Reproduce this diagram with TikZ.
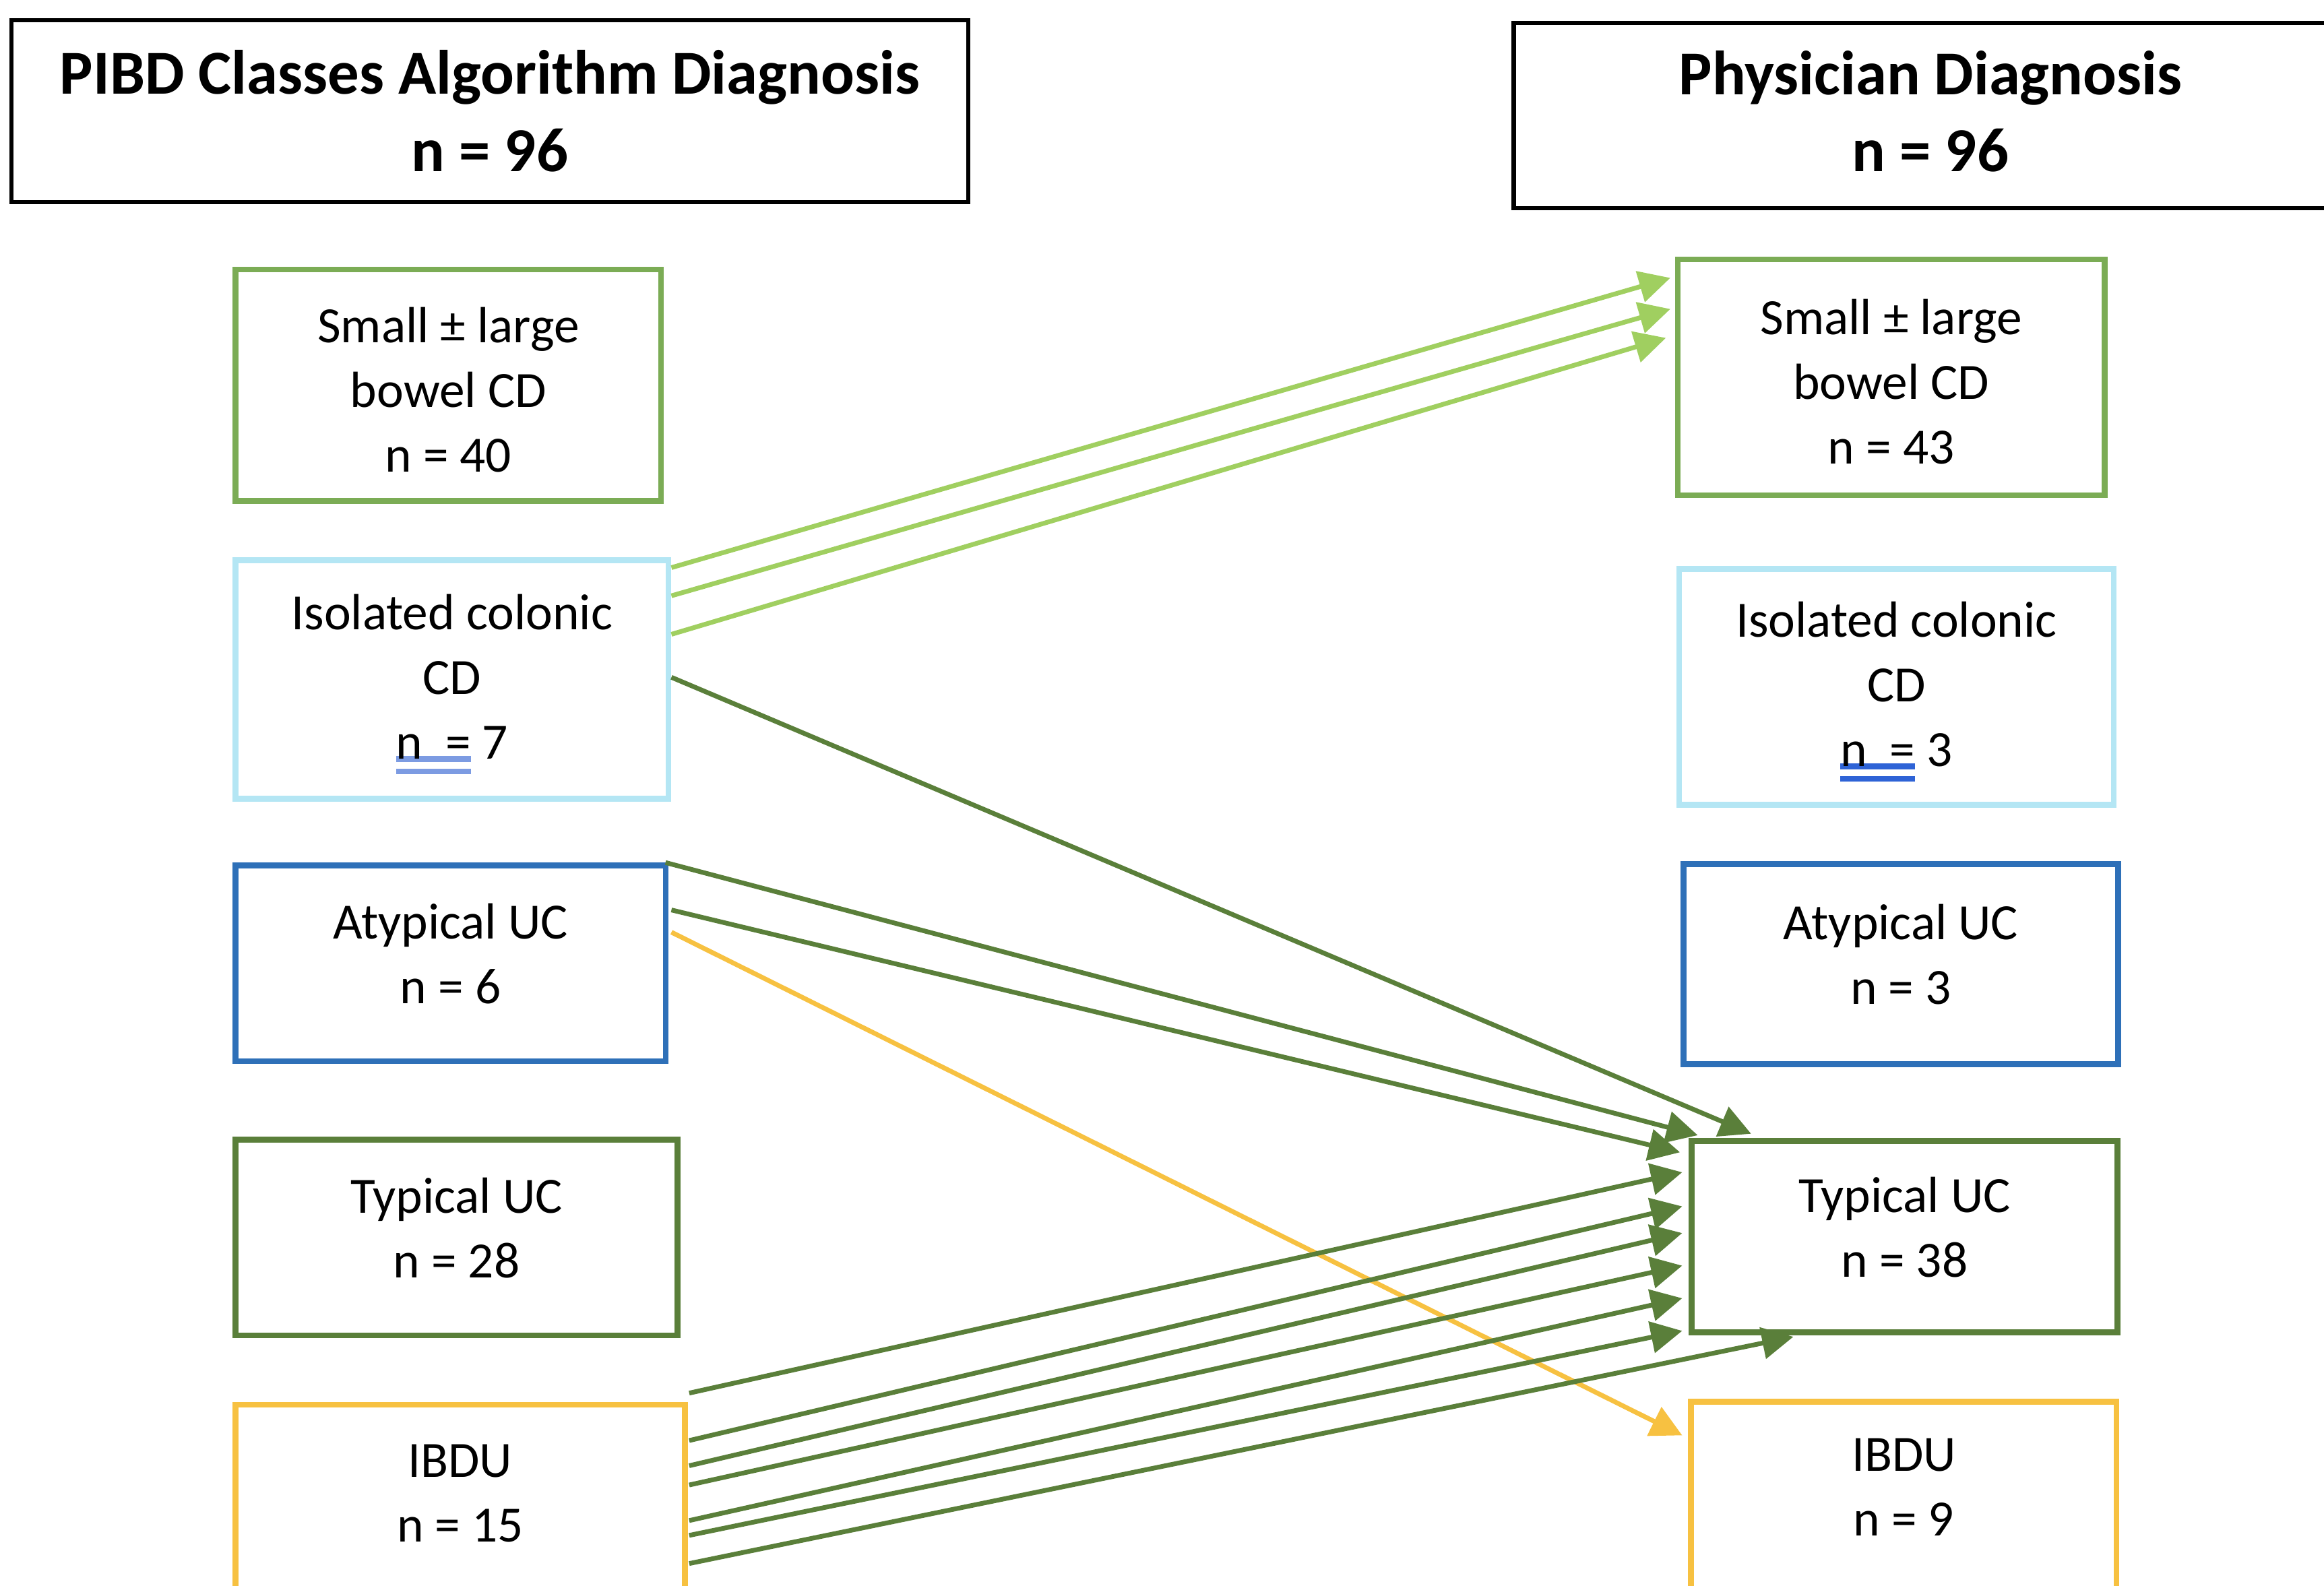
\documentclass[tikz,border=0pt]{standalone}
\usepackage{fontspec}
\setmainfont{Carlito}
\usepackage{tikz}
\usetikzlibrary{arrows.meta,calc}

\definecolor{DLeaf}{HTML}{7BAC55}
\definecolor{DLime}{HTML}{A0CF60}
\definecolor{DIce}{HTML}{B4E6F4}
\definecolor{DCobalt}{HTML}{2E70B8}
\definecolor{DMoss}{HTML}{5A7F3A}
\definecolor{DAmber}{HTML}{F7C141}
\definecolor{DMarkLt}{HTML}{7C9BE2}
\definecolor{DMark}{HTML}{2E63D6}

% double mark under a piece of text
\newsavebox\markbox
\newcommand{\dblmark}[2]{%
  \sbox\markbox{#2}%
  \rlap{\textcolor{#1}{\rule[-0.6pt]{\wd\markbox}{1.1pt}}}%
  \rlap{\textcolor{#1}{\rule[-3.0pt]{\wd\markbox}{1.1pt}}}%
  \usebox\markbox}

\begin{document}
\begin{tikzpicture}[x=0.01cm,y=-0.01cm,
    headbox/.style={draw=black,line width=0.8pt,align=center,inner sep=0pt,
      font=\fontsize{12}{14.8}\selectfont\bfseries},
    classbox/.style={draw=#1,line width=1.1pt,align=center,inner sep=0pt,
      font=\fontsize{9.75}{12.4}\selectfont},
    tworow/.style={text depth=3.7pt},
    threerow/.style={text height=33.4pt},
    flow/.style={-{Triangle[length=6pt,width=6pt]},line width=0.9pt,draw=#1}]
  \useasboundingbox (0,0) rectangle (1568,1070);
  \clip (0,0) rectangle (1568,1070);

  % headers
  \node[headbox,minimum width=6.45cm,minimum height=1.23cm] (Lhead) at (330.5,75)
    {PIBD Classes Algorithm Diagnosis\\n = 96};
  \node[headbox,text depth=1.7pt,minimum width=5.62cm,minimum height=1.25cm] (Rhead) at (1302.5,78)
    {Physician Diagnosis\\n = 96};

  % algorithm column
  \node[classbox=DLeaf,threerow,minimum width=2.87cm,minimum height=1.56cm] (Lsmall) at (302.5,260)
    {Small ± large\\bowel CD\\n = 40};
  \node[classbox=DIce,threerow,minimum width=2.92cm,minimum height=1.61cm] (Liso) at (305,458.5)
    {Isolated colonic\\CD\\\dblmark{DMarkLt}{n\ \ =} 7};
  \node[classbox=DCobalt,tworow,minimum width=2.90cm,minimum height=1.32cm] (Latyp) at (304,650)
    {Atypical UC\\n = 6};
  \node[classbox=DMoss,tworow,minimum width=2.98cm,minimum height=1.32cm] (Ltyp) at (308,835)
    {Typical UC\\n = 28};
  \node[classbox=DAmber,tworow,minimum width=3.03cm,minimum height=1.32cm] (Libdu) at (310.5,1014)
    {IBDU\\n = 15};

  % physician column
  \node[classbox=DLeaf,threerow,minimum width=2.88cm,minimum height=1.59cm] (Rsmall) at (1276,254.5)
    {Small ± large\\bowel CD\\n = 43};
  \node[classbox=DIce,threerow,minimum width=2.93cm,minimum height=1.59cm] (Riso) at (1279.5,463.5)
    {Isolated colonic\\CD\\\dblmark{DMark}{n\ \ =} 3};
  \node[classbox=DCobalt,tworow,minimum width=2.93cm,minimum height=1.35cm] (Ratyp) at (1282.5,650.5)
    {Atypical UC\\n = 3};
  \node[classbox=DMoss,tworow,minimum width=2.87cm,minimum height=1.29cm] (Rtyp) at (1285,834.5)
    {Typical UC\\n = 38};
  \node[classbox=DAmber,tworow,minimum width=2.87cm,minimum height=1.28cm] (Ribdu) at (1284.5,1010)
    {IBDU\\n = 9};

  % reclassified patients
  \foreach \s/\ex/\ey in {7/-3/14.5,26/-3/35.5,52/-6/55}
    \draw[flow=DLime] ($(Liso.north east)+(0,\s)$) -- ($(Rsmall.north west)+(\ex,\ey)$);
  \draw[flow=DMoss] ($(Liso.north east)+(0,81)$) -- ($(Rtyp.north west)+(42,-3)$);
  \draw[flow=DMoss] ($(Latyp.north east)+(-2,0)$) -- ($(Rtyp.north west)+(6,-2)$);
  \draw[flow=DMoss] ($(Latyp.north east)+(2,32)$) -- ($(Rtyp.north west)+(-6,9.5)$);
  \draw[flow=DAmber] ($(Latyp.north east)+(2,47)$) -- ($(Ribdu.north west)+(-4,24.5)$);
  \foreach \s/\ex/\ey in {-6/-4.5/23,26/-4.5/46,43/-4.5/64,56/-4.5/86,80/-4.5/108,
                          90/-4.5/130,109/70.5/134}
    \draw[flow=DMoss] ($(Libdu.north east)+(1,\s)$) -- ($(Rtyp.north west)+(\ex,\ey)$);
\end{tikzpicture}
\end{document}
